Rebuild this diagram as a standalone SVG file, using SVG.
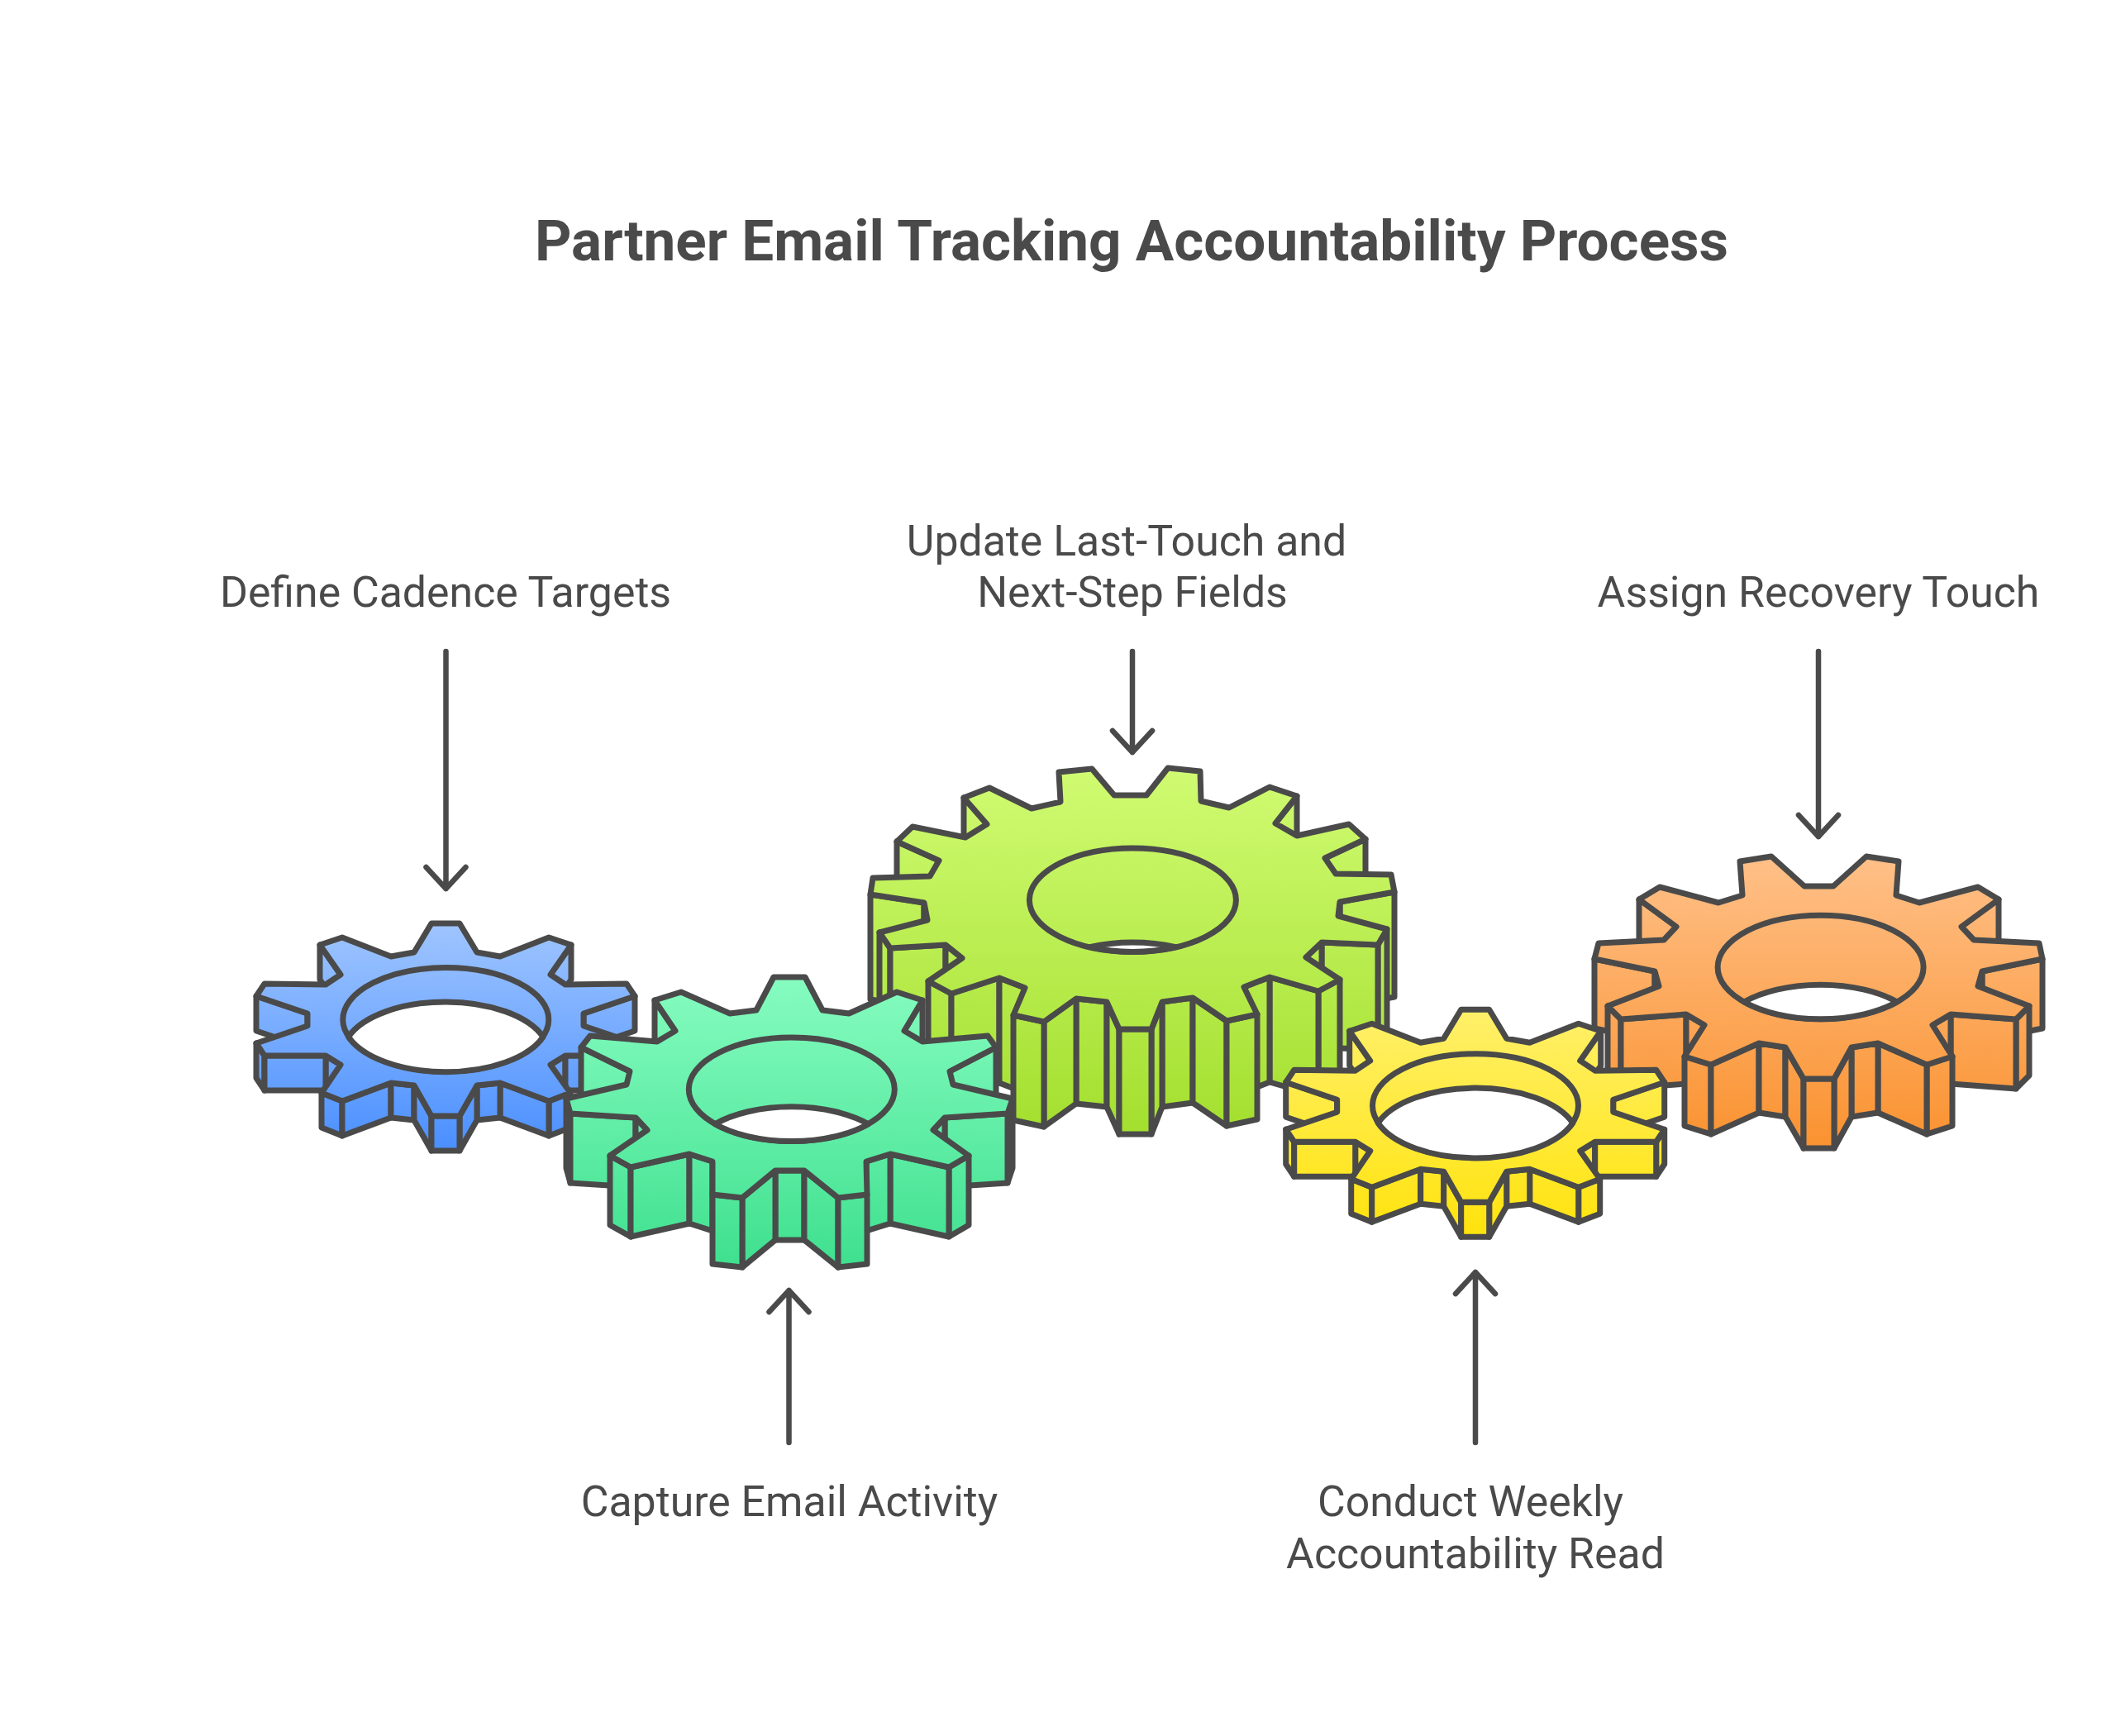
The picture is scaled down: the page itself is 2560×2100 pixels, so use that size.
<svg xmlns="http://www.w3.org/2000/svg" xmlns:xlink="http://www.w3.org/1999/xlink" width="2560" height="2100" viewBox="0 0 2560 2100">
<style>
.g path,.g polygon,.g ellipse,#gear10 path,#gear10 polygon,#gear10 ellipse{stroke:#4A4A4A;stroke-width:7;stroke-linejoin:round;stroke-linecap:round}
.hole{fill:none}
.lens{fill:#fff}
.c path{fill:none;stroke:#4A4A4A;stroke-width:6.5;stroke-linecap:round;stroke-linejoin:round}
text{font-family:Roboto,"Liberation Sans",sans-serif;fill:#4A4A4A;text-anchor:middle}
.l{font-size:51.8px}
.t{font-size:69.2px;font-weight:700}
</style>
<defs>
<linearGradient id="gb" gradientUnits="userSpaceOnUse" x1="0" x2="0" y1="1117" y2="1392"><stop offset="0" stop-color="#9FC5FF"/><stop offset="1" stop-color="#4A8FFF"/></linearGradient>
<linearGradient id="gy" gradientUnits="userSpaceOnUse" x1="0" x2="0" y1="1117" y2="1392"><stop offset="0" stop-color="#FFF06A"/><stop offset="1" stop-color="#FFE30C"/></linearGradient>
<linearGradient id="gg" gradientUnits="userSpaceOnUse" x1="0" x2="0" y1="1182" y2="1533"><stop offset="0" stop-color="#86FCC0"/><stop offset="1" stop-color="#3FE08F"/></linearGradient>
<linearGradient id="gl" gradientUnits="userSpaceOnUse" x1="0" x2="0" y1="930" y2="1372"><stop offset="0" stop-color="#D0FB72"/><stop offset="1" stop-color="#A3DF2E"/></linearGradient>
<linearGradient id="go" gradientUnits="userSpaceOnUse" x1="0" x2="0" y1="1036" y2="1389"><stop offset="0" stop-color="#FFC088"/><stop offset="1" stop-color="#FA9230"/></linearGradient>
<g id="gear10">
<path d="M691 1143L666 1179V1221L691 1185Z"/>
<path d="M412 1179L387 1143V1185L412 1221Z"/>
<path d="M768 1205L706 1226V1268L768 1247Z"/>
<path d="M372 1226L310 1205V1247L372 1268Z"/>
<path d="M768 1262L758 1277V1319L768 1304Z"/>
<path d="M320 1277L310 1262V1304L320 1319Z"/>
<path d="M684 1277L666 1288V1330L684 1319Z"/>
<path d="M412 1288L394 1277V1319L412 1330Z"/>
<path d="M758 1277L684 1277V1319L758 1319Z"/>
<path d="M394 1277L320 1277V1319L394 1319Z"/>
<path d="M690 1322L664 1332V1374L690 1364Z"/>
<path d="M414 1332L389 1322V1364L414 1374Z"/>
<path d="M664 1332L605 1310V1352L664 1374Z"/>
<path d="M473 1310L414 1332V1374L473 1352Z"/>
<path d="M605 1310L577 1313V1355L605 1352Z"/>
<path d="M501 1313L473 1310V1352L501 1355Z"/>
<path d="M577 1313L556 1350V1392L577 1355Z"/>
<path d="M522 1350L501 1313V1355L522 1392Z"/>
<path d="M556 1350L522 1350V1392L556 1392Z"/>
<polygon points="522,1117 556,1117 577,1152 605,1157 664,1134 691,1143 666,1179 684,1191 758,1190 768,1205 706,1226 706,1241 768,1262 758,1277 684,1277 666,1288 690,1322 664,1332 605,1310 577,1313 556,1350 522,1350 501,1313 473,1310 414,1332 389,1322 412,1288 394,1277 320,1277 310,1262 372,1241 372,1226 310,1205 320,1190 394,1191 412,1179 387,1143 414,1134 473,1157 501,1152"/>
<ellipse class="hole" cx="539.3" cy="1233.3" rx="124.5" ry="62.7"/>
<path class="lens" d="M421.5 1254.3A124.5 62.7 0 0 1 657.1 1254.3A124.5 62.7 0 0 1 421.5 1254.3Z"/>
</g>
</defs>
<rect width="2560" height="2100" fill="#fff"/>
<text class="t" x="1369" y="315">Partner Email Tracking Accountability Process</text>
<g id="gear-update" class="g" fill="url(#gl)">
<path d="M1569 963L1543 996V1123L1569 1090Z"/>
<path d="M1194 997L1166 965V1092L1194 1124Z"/>
<path d="M1652 1015L1603 1038V1165L1652 1142Z"/>
<path d="M1136 1041L1085 1018V1145L1136 1168Z"/>
<path d="M1687 1079L1621 1091V1218L1687 1206Z"/>
<path d="M1118 1092L1053 1082V1209L1118 1219Z"/>
<path d="M1621 1091L1619 1108V1235L1621 1218Z"/>
<path d="M1122 1113L1118 1092V1219L1122 1240Z"/>
<path d="M1678 1124L1667 1143V1270L1678 1251Z"/>
<path d="M1077 1147L1064 1128V1255L1077 1274Z"/>
<path d="M1667 1143L1599 1140V1267L1667 1270Z"/>
<path d="M1144 1143L1077 1147V1274L1144 1270Z"/>
<path d="M1599 1140L1580 1158V1285L1599 1267Z"/>
<path d="M1164 1159L1144 1143V1270L1164 1286Z"/>
<path d="M1621 1185L1595 1199V1326L1621 1312Z"/>
<path d="M1151 1202L1123 1187V1314L1151 1329Z"/>
<path d="M1595 1199L1536 1182V1309L1595 1326Z"/>
<path d="M1209 1183L1151 1202V1329L1209 1310Z"/>
<path d="M1536 1182L1505 1194V1321L1536 1309Z"/>
<path d="M1240 1195L1209 1183V1310L1240 1322Z"/>
<path d="M1443 1207L1406 1212V1339L1443 1334Z"/>
<path d="M1339 1212L1302 1208V1335L1339 1339Z"/>
<path d="M1484 1235L1443 1207V1334L1484 1362Z"/>
<path d="M1302 1208L1263 1236V1363L1302 1335Z"/>
<path d="M1521 1227L1484 1235V1362L1521 1354Z"/>
<path d="M1263 1236L1226 1228V1355L1263 1363Z"/>
<path d="M1406 1212L1393 1245V1372L1406 1339Z"/>
<path d="M1354 1245L1339 1212V1339L1354 1372Z"/>
<path d="M1393 1245L1354 1245V1372L1393 1372Z"/>
<polygon points="1281,934 1321,930 1348,962 1387,962 1413,929 1452,933 1453,969 1487,977 1536,952 1569,963 1543,996 1569,1011 1632,997 1652,1015 1603,1038 1616,1057 1683,1058 1687,1079 1621,1091 1619,1108 1678,1124 1667,1143 1599,1140 1580,1158 1621,1185 1595,1199 1536,1182 1505,1194 1521,1227 1484,1235 1443,1207 1406,1212 1393,1245 1354,1245 1339,1212 1302,1208 1263,1236 1226,1228 1240,1195 1209,1183 1151,1202 1123,1187 1164,1159 1144,1143 1077,1147 1064,1128 1122,1113 1118,1092 1053,1082 1056,1062 1125,1060 1136,1041 1085,1018 1104,1000 1168,1013 1194,997 1166,965 1197,953 1248,978 1283,970"/>
<ellipse class="hole" cx="1370.4" cy="1088.7" rx="125" ry="62.7"/>
<path class="lens" d="M1318.4 1145.7A125 62.7 0 0 1 1422.4 1145.7A125 62.7 0 0 1 1318.4 1145.7Z"/>
</g>
<g id="gear-recovery" class="g" fill="url(#go)">
<path d="M2418 1088L2373 1121V1205L2418 1172Z"/>
<path d="M2028 1121L1983 1088V1172L2028 1205Z"/>
<path d="M2471 1160L2398 1175V1259L2471 1244Z"/>
<path d="M2002 1175L1929 1160V1244L2002 1259Z"/>
<path d="M2398 1175L2393 1193V1277L2398 1259Z"/>
<path d="M2007 1193L2002 1175V1259L2007 1277Z"/>
<path d="M2455 1217L2439 1233V1317L2455 1301Z"/>
<path d="M1961 1233L1945 1217V1301L1961 1317Z"/>
<path d="M2439 1233L2360 1227V1311L2439 1317Z"/>
<path d="M2040 1227L1961 1233V1317L2040 1311Z"/>
<path d="M2360 1227L2338 1240V1324L2360 1311Z"/>
<path d="M2062 1240L2040 1227V1311L2062 1324Z"/>
<path d="M2362 1278L2331 1288V1372L2362 1362Z"/>
<path d="M2070 1288L2038 1278V1362L2070 1372Z"/>
<path d="M2331 1288L2272 1262V1346L2331 1372Z"/>
<path d="M2128 1262L2070 1288V1372L2128 1346Z"/>
<path d="M2272 1262L2240 1267V1351L2272 1346Z"/>
<path d="M2160 1267L2128 1262V1346L2160 1351Z"/>
<path d="M2240 1267L2219 1305V1389L2240 1351Z"/>
<path d="M2182 1305L2160 1267V1351L2182 1389Z"/>
<path d="M2219 1305L2182 1305V1389L2219 1389Z"/>
<polygon points="2105,1042 2143,1036 2183,1072 2218,1072 2258,1036 2297,1042 2294,1083 2322,1092 2393,1073 2418,1088 2373,1121 2388,1137 2467,1141 2471,1160 2398,1175 2393,1193 2455,1217 2439,1233 2360,1227 2338,1240 2362,1278 2331,1288 2272,1262 2240,1267 2219,1305 2182,1305 2160,1267 2128,1262 2070,1288 2038,1278 2062,1240 2040,1227 1961,1233 1945,1217 2007,1193 2002,1175 1929,1160 1934,1141 2013,1137 2028,1121 1983,1088 2008,1073 2079,1092 2108,1083"/>
<ellipse class="hole" cx="2202.6" cy="1170" rx="124.5" ry="62.7"/>
<path class="lens" d="M2110 1212A124.5 62.7 0 0 1 2295.2 1212A124.5 62.7 0 0 1 2110 1212Z"/>
</g>
<g id="gear-define" class="g" fill="url(#gb)"><use href="#gear10" xlink:href="#gear10"/></g>
<g id="gear-capture" class="g" fill="url(#gg)">
<path d="M1116 1210L1094 1247V1331L1116 1294Z"/>
<path d="M817 1247L792 1210V1294L817 1331Z"/>
<path d="M1205 1267L1149 1296V1380L1205 1351Z"/>
<path d="M762 1296L703 1267V1351L762 1380Z"/>
<path d="M1225 1329L1219 1347V1431L1225 1413Z"/>
<path d="M690 1347L685 1329V1413L690 1431Z"/>
<path d="M1219 1347L1143 1352V1436L1219 1431Z"/>
<path d="M769 1352L690 1347V1431L769 1436Z"/>
<path d="M1143 1352L1129 1367V1451L1143 1436Z"/>
<path d="M783 1367L769 1352V1436L783 1451Z"/>
<path d="M1172 1398L1148 1412V1496L1172 1482Z"/>
<path d="M763 1412L738 1398V1482L763 1496Z"/>
<path d="M1148 1412L1077 1396V1480L1148 1496Z"/>
<path d="M834 1396L763 1412V1496L834 1480Z"/>
<path d="M1077 1396L1048 1405V1489L1077 1480Z"/>
<path d="M862 1405L834 1396V1480L862 1489Z"/>
<path d="M973 1416L938 1416V1500L973 1500Z"/>
<path d="M1014 1449L973 1416V1500L1014 1533Z"/>
<path d="M938 1416L898 1449V1533L938 1500Z"/>
<path d="M1049 1445L1014 1449V1533L1049 1529Z"/>
<path d="M898 1449L862 1445V1529L898 1533Z"/>
<polygon points="936,1182 974,1182 995,1222 1027,1226 1085,1200 1116,1210 1094,1247 1116,1260 1195,1253 1205,1267 1149,1296 1153,1312 1225,1329 1219,1347 1143,1352 1129,1367 1172,1398 1148,1412 1077,1396 1048,1405 1049,1445 1014,1449 973,1416 938,1416 898,1449 862,1445 862,1405 834,1396 763,1412 738,1398 783,1367 769,1352 690,1347 685,1329 758,1312 762,1296 703,1267 714,1253 795,1260 817,1247 792,1210 824,1200 883,1226 915,1222"/>
<ellipse class="hole" cx="957.8" cy="1317.7" rx="124.5" ry="62.7"/>
<path class="lens" d="M865 1359.7A124.5 62.7 0 0 1 1050.6 1359.7A124.5 62.7 0 0 1 865 1359.7Z"/>
</g>
<g id="gear-read" class="g" fill="url(#gy)" transform="translate(1245.7 104.2)"><use href="#gear10" xlink:href="#gear10"/></g>
<g id="connectors" class="c">
<path d="M539.5 788V1075M515.5 1049L539.5 1075L563.5 1049"/>
<path d="M1370 788V910M1346 884L1370 910L1394 884"/>
<path d="M2200 788V1012M2176 986L2200 1012L2224 986"/>
<path d="M954.5 1745V1561M930.5 1587L954.5 1561L978.5 1587"/>
<path d="M1785 1745V1539M1761 1565L1785 1539L1809 1565"/>
</g>
<g id="labels">
<text class="l" x="539" y="734">Define Cadence Targets</text>
<text class="l" x="1363" y="672">Update Last-Touch and</text>
<text class="l" x="1370" y="734">Next-Step Fields</text>
<text class="l" x="2200" y="734">Assign Recovery Touch</text>
<text class="l" x="955" y="1834">Capture Email Activity</text>
<text class="l" x="1779" y="1834">Conduct Weekly</text>
<text class="l" x="1785" y="1897">Accountability Read</text>
</g>
</svg>
